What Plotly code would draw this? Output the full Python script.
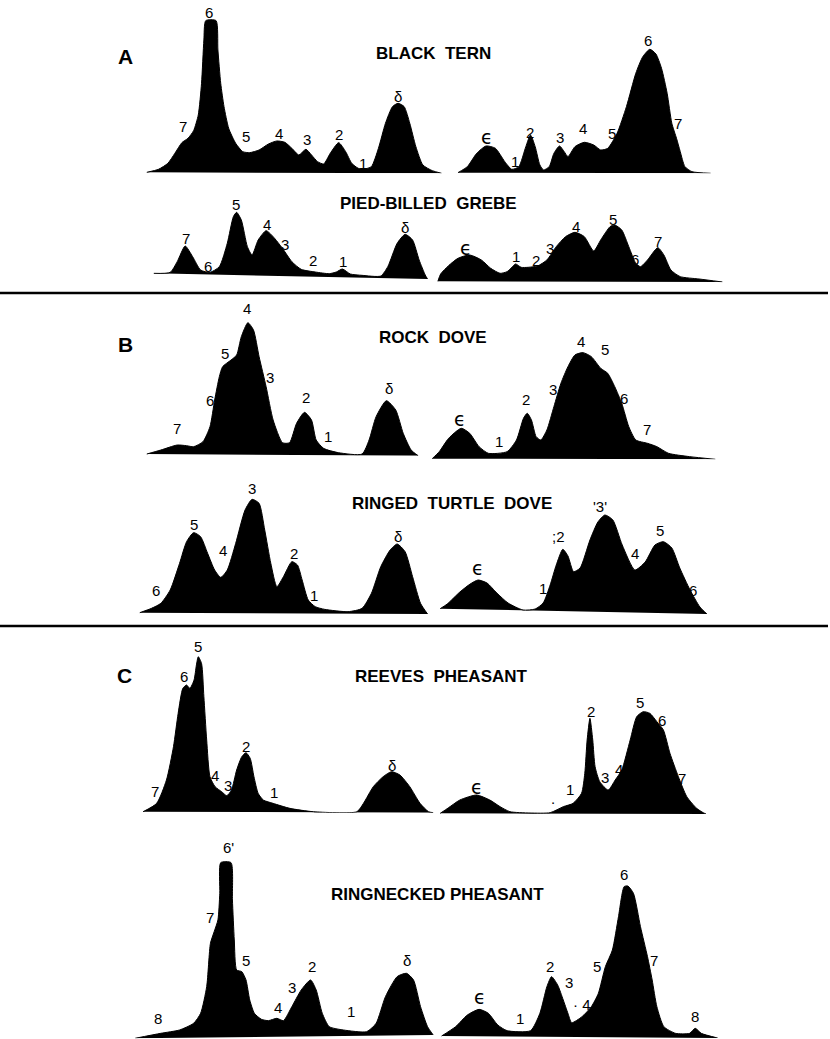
import plotly.graph_objects as go

W, H = 830, 1039

# ---------------- data: densitometer traces (migration distance, optical density) -------------
bt_l_x = [100,125,145,160,175,188,200,210,217,222,226,248,252,258,265,275,290,305,320,340,360,378,395,410,425,440,452,465,478,492,510,525,538,552,565,580,595,610,625,637,650,662,675,690,710,730]
bt_l_y = [3,12,30,60,92,105,128,175,270,400,458,458,370,270,200,135,90,65,62,70,88,97,93,75,55,72,55,35,28,60,92,65,30,15,13,20,75,150,200,210,200,150,80,25,8,0]
bt_r_x = [765,785,805,825,845,865,880,895,910,920,930,940,948,960,970,982,992,1000,1015,1035,1055,1070,1085,1105,1125,1145,1160,1175,1188,1200,1212,1222,1232,1240,1250,1265,1305]
bt_r_y = [2,20,60,82,75,35,12,20,80,115,80,25,10,20,60,82,65,50,80,93,85,70,75,120,200,300,350,372,358,315,240,150,105,65,20,5,0]

pbg_l_x = [115,150,165,182,198,215,235,255,272,285,292,302,315,325,338,355,370,390,410,430,460,490,505,518,535,560,600,615,635,652,668,682,695,700]
pbg_l_y = [17,20,52,99,67,27,20,37,107,187,200,177,97,72,117,145,127,92,52,29,21,16,21,30,15,11,9,37,107,134,117,57,12,0]
pbg_r_x = [722,728,745,765,790,815,835,855,870,880,888,900,915,935,955,975,995,1015,1035,1055,1070,1090,1100,1115,1130,1145,1155,1170,1192,1205,1220,1240,1280,1330]
pbg_r_y = [3,25,50,72,82,67,42,27,32,45,55,45,45,49,67,107,137,150,137,94,127,167,172,157,107,57,47,67,104,82,37,17,10,1]

rd_l_x = [100,130,165,185,200,220,235,245,255,262,280,292,302,316,328,340,355,370,390,405,420,437,452,462,478,510,560,575,590,612,632,648,665,680]
rd_l_y = [5,17,32,30,27,42,87,167,237,267,287,302,357,399,377,297,207,107,39,39,97,130,107,47,22,9,5,47,117,165,137,67,17,0]
rd_r_x = [710,725,745,772,790,810,830,870,890,905,913,922,932,942,955,970,985,1000,1015,1032,1050,1070,1085,1100,1115,1130,1145,1170,1190,1215,1260,1315]
rd_r_y = [2,23,63,93,78,38,18,23,58,123,138,118,68,58,88,158,228,278,313,320,308,273,258,218,168,98,58,48,38,18,8,0]

td_l_x = [85,110,130,150,170,185,200,215,230,245,258,272,290,310,325,340,352,365,378,392,410,422,432,445,460,480,530,560,580,600,620,635,652,668,685,700]
td_l_y = [4,17,32,72,152,217,244,232,182,132,110,132,212,312,344,332,252,152,82,112,157,147,102,42,22,14,7,17,62,142,192,210,187,112,32,0]
td_r_x = [727,742,769,791,808,827,848,872,904,930,947,962,975,989,1000,1012,1026,1047,1064,1079,1096,1116,1143,1165,1186,1204,1222,1239,1261,1282,1297]
td_r_y = [16,30,66,90,102,93,63,33,12,15,33,87,147,194,174,127,138,222,276,297,282,207,132,156,207,217,198,138,72,21,0]

rp_l_x = [92,121,142,157,167,177,185,192,201,206,210,217,222,228,235,246,260,271,281,292,303,312,321,329,338,349,370,406,456,549,563,584,605,623,641,662,684,702,712]
rp_l_y = [3,28,98,198,298,373,383,373,398,443,468,448,348,218,108,78,63,51,68,128,168,180,163,108,58,38,28,13,3,3,28,78,108,123,113,78,28,3,0]
rp_r_x = [727,744,769,805,833,855,876,919,962,990,1011,1029,1036,1041,1047,1053,1058,1068,1086,1101,1115,1133,1147,1161,1175,1190,1204,1218,1236,1254,1275,1289,1295]
rp_r_y = [2,18,42,57,42,22,7,3,4,22,32,62,122,222,287,222,142,97,72,102,132,222,292,307,302,277,252,182,112,52,17,4,0]

rn_l_x = [75,130,170,200,215,228,236,244,252,256,258,280,283,287,292,303,312,320,330,345,360,378,392,410,430,450,462,475,490,520,570,590,610,635,655,670,685,700,712]
rn_l_y = [0,15,25,45,75,155,285,320,355,435,527,527,415,295,205,200,175,115,75,57,53,60,53,95,145,175,145,75,35,25,20,45,125,185,195,175,95,35,10]
rn_r_x = [730,760,785,810,830,850,870,920,940,955,965,978,990,1000,1008,1030,1050,1065,1080,1095,1108,1120,1128,1140,1155,1170,1180,1190,1205,1230,1260,1272,1285,1320]
rn_r_y = [6,34,69,86,74,39,22,22,74,154,184,159,114,74,46,64,94,134,214,264,364,454,456,434,334,244,174,94,34,14,14,29,14,0]

# ---------------- band labels (text, migration, density) ----------------
bt_l_lab = [("7",178,140),("6",232,482),("5",313,110),("4",383,120),("3",443,100),("2",510,115),("1",563,30),("δ",637,230)]
bt_r_lab = [("ϵ",826,110),("1",886,35),("2",918,122),("3",982,108),("4",1033,135),("5",1095,120),("6",1170,398),("7",1235,150)]
pbg_l_lab = [("7",183,122),("6",230,39),("5",290,225),("4",356,164),("3",396,104),("2",455,57),("1",520,52),("δ",652,154)]
pbg_r_lab = [("ϵ",783,102),("1",888,77),("2",932,64),("3",962,102),("4",1017,167),("5",1097,189),("6",1143,67),("7",1192,122)]
rd_l_lab = [("7",165,82),("6",236,167),("5",268,307),("4",315,442),("3",364,235),("2",440,175),("1",488,57),("δ",617,202)]
rd_r_lab = [("ϵ",770,120),("1",852,53),("2",910,180),("3",968,210),("4",1028,353),("5",1080,330),("6",1120,183),("7",1168,88)]
td_l_lab = [("6",120,70),("5",200,269),("4",262,192),("3",325,377),("2",415,182),("1",458,57),("δ",637,234)]
td_r_lab = [("ϵ",808,137),("1",947,77),(";2",979,232),("'3'",1068,322),("4",1143,182),("5",1197,252),("6",1268,70)]
rp_l_lab = [("7",117,63),("6",180,408),("5",210,498),("4",246,113),("3",274,83),("2",312,198),("1",372,60),("δ",625,143)]
rp_r_lab = [("ϵ",805,82),(".",967,47),("1",1004,74),("2",1049,307),("3",1079,110),("4",1110,134),("5",1155,334),("6",1202,282),("7",1243,107)]
rn_l_lab = [("8",125,60),("7",235,363),("6'",275,573),("5",313,233),("4",380,93),("3",410,152),("2",452,215),("1",537,80),("δ",657,233)]
rn_r_lab = [("ϵ",812,124),("1",898,59),("2",962,216),("3",1002,166),("· 4",1030,102),("5",1062,216),("6",1120,492),("7",1183,232),("8",1272,66)]

species = ["BLACK  TERN", "PIED-BILLED  GREBE", "ROCK  DOVE", "RINGED  TURTLE  DOVE",
           "REEVES  PHEASANT", "RINGNECKED PHEASANT"]
panels = ["A", "B", "C"]

# ---------------- layout / placement (pixels) ----------------
XU, YU = 2.137, 3.0          # chart units per pixel
X0 = 100                      # pixel where migration 0 sits
traces = [
    (bt_l_x, bt_l_y, bt_l_lab, 173.3), (bt_r_x, bt_r_y, bt_r_lab, 173.3),
    (pbg_l_x, pbg_l_y, pbg_l_lab, 279.0), (pbg_r_x, pbg_r_y, pbg_r_lab, 282.3),
    (rd_l_x, rd_l_y, rd_l_lab, 455.7), (rd_r_x, rd_r_y, rd_r_lab, 459.3),
    (td_l_x, td_l_y, td_l_lab, 614.0), (td_r_x, td_r_y, td_r_lab, 614.0),
    (rp_l_x, rp_l_y, rp_l_lab, 812.7), (rp_r_x, rp_r_y, rp_r_lab, 814.0),
    (rn_l_x, rn_l_y, rn_l_lab, 1038.3), (rn_r_x, rn_r_y, rn_r_lab, 1038.0),
]
title_pos = [(433, 53), (429, 204), (433, 338), (452, 503), (441, 676), (437, 894)]
panel_pos = [(125, 56), (125, 344), (124, 675)]
sep_y = [293, 626]

LABEL_FONT = dict(family="Liberation Sans, Arial, sans-serif", size=15, color="black")
EPS_FONT = dict(family="DejaVu Sans, Liberation Sans, sans-serif", size=19, color="black")
TITLE_FONT = dict(family="Liberation Sans, Arial, sans-serif", size=17, color="black", weight="bold")
PANEL_FONT = dict(family="Liberation Sans, Arial, sans-serif", size=21, color="black", weight="bold")

fig = go.Figure()
layout = dict(
    width=W, height=H, autosize=False,
    margin=dict(l=0, r=0, t=0, b=0, pad=0),
    paper_bgcolor="white", plot_bgcolor="rgba(0,0,0,0)",
    showlegend=False,
    xaxis=dict(domain=[0, 1], range=[-X0 * XU, (W - X0) * XU], visible=False, fixedrange=True),
)
annotations = []
for i, (xs, ys, labs, base) in enumerate(traces):
    k = i + 1
    yname = "y" if k == 1 else f"y{k}"
    akey = "yaxis" if k == 1 else f"yaxis{k}"
    top = max(0.0, base - 200)
    layout[akey] = dict(domain=[1 - base / H, 1 - top / H], range=[0, (base - top) * YU],
                        anchor="x", visible=False, fixedrange=True)
    fig.add_trace(go.Scatter(x=xs, y=ys, xaxis="x", yaxis=yname, mode="lines",
                             fill="toself", fillcolor="black",
                             line=dict(color="black", width=1, shape="spline", smoothing=0.6),
                             hoverinfo="skip"))
    for t, lx, ly in labs:
        annotations.append(dict(text=t, x=lx, y=ly, xref="x", yref=yname, showarrow=False,
                                font=EPS_FONT if t == "ϵ" else LABEL_FONT,
                                xanchor="center", yanchor="middle"))

for name, (px, py) in zip(species, title_pos):
    annotations.append(dict(text=name.replace(" ", "&nbsp;"), x=px / W, y=1 - py / H, xref="paper", yref="paper",
                            showarrow=False, font=TITLE_FONT, xanchor="center", yanchor="middle"))
for name, (px, py) in zip(panels, panel_pos):
    annotations.append(dict(text=name, x=px / W, y=1 - py / H, xref="paper", yref="paper",
                            showarrow=False, font=PANEL_FONT, xanchor="center", yanchor="middle"))

shapes = []
for sy in sep_y:
    shapes.append(dict(type="line", xref="paper", yref="paper", x0=0, x1=828 / W,
                       y0=1 - sy / H, y1=1 - sy / H, line=dict(color="black", width=2.5)))

layout["annotations"] = annotations
layout["shapes"] = shapes
fig.update_layout(**layout)

fig.write_html("out.html", config={"displayModeBar": False},
               post_script="document.body.style.margin='0';document.body.style.overflow='hidden';")
